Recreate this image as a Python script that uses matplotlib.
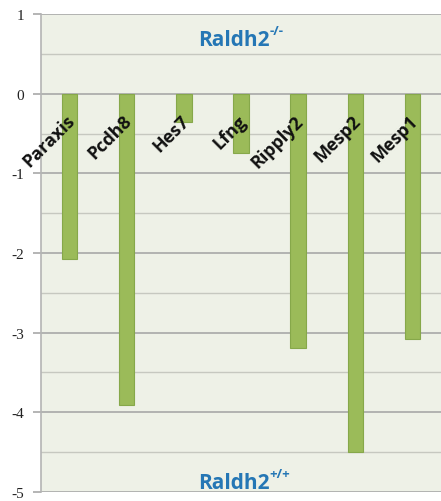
import matplotlib.pyplot as plt
import numpy as np

# gene expression change, Raldh2-/- vs Raldh2+/+
genes = ['Paraxis', 'Pcdh8', 'Hes7', 'Lfng', 'Ripply2', 'Mesp2', 'Mesp1']
fold = [-2.07, -3.91, -0.36, -0.75, -3.19, -4.50, -3.08]
yticks = [1, 0, -1, -2, -3, -4, -5]

fig = plt.figure(figsize=(4.41, 5.02), dpi=100)
ax = fig.add_axes([0.093, 0.018, 0.907, 0.952])
ax.set_facecolor('#eef1e7')

x = np.arange(len(genes))
ax.bar(x, fold, width=0.27, color='#9bbb59', edgecolor='#86a84a', linewidth=0.8, zorder=3)

ax.set_xlim(-0.5, len(genes) - 0.5)
ax.set_ylim(-5, 1)
ax.set_yticks(yticks)
ax.set_yticklabels([str(t) for t in yticks], family='Liberation Serif', fontsize=11, color='#222222')
ax.set_yticks(np.arange(-4.5, 1, 1), minor=True)
ax.set_xticks([])

ax.grid(axis='y', which='major', color='#a8a8a8', linewidth=1.2, zorder=1)
ax.grid(axis='y', which='minor', color='#c6c8c0', linewidth=1.0, zorder=1)
ax.tick_params(axis='y', which='major', length=6, color='#a8a8a8', width=1.2, pad=6)
ax.tick_params(axis='y', which='minor', length=0)

for s in ['top', 'right', 'bottom']:
    ax.spines[s].set_visible(False)
ax.spines['left'].set_color('#b4b4b4')
ax.spines['left'].set_linewidth(1.2)

# gene names, slanted next to each bar
for i, g in enumerate(genes):
    ax.text(i + 0.04, -0.3, g, rotation=45, rotation_mode='anchor', ha='right', va='center',
            fontsize=13, fontweight='bold', family='Open Sans', color='#111111', zorder=4)

# genotype labels: name plus a small superscript
for ypos, sup in [(0.68, '-/-'), (-4.88, '+/+')]:
    t = ax.text(3.5, ypos, 'Raldh2', ha='right', va='center', fontsize=15,
                fontweight='bold', family='Open Sans', color='#2577b5')
    ax.annotate(sup, xy=(1.0, 0.6), xycoords=t, ha='left', va='bottom', fontsize=9.5,
                fontweight='bold', family='Open Sans', color='#2577b5')

fig.savefig('out.png', dpi=100)
